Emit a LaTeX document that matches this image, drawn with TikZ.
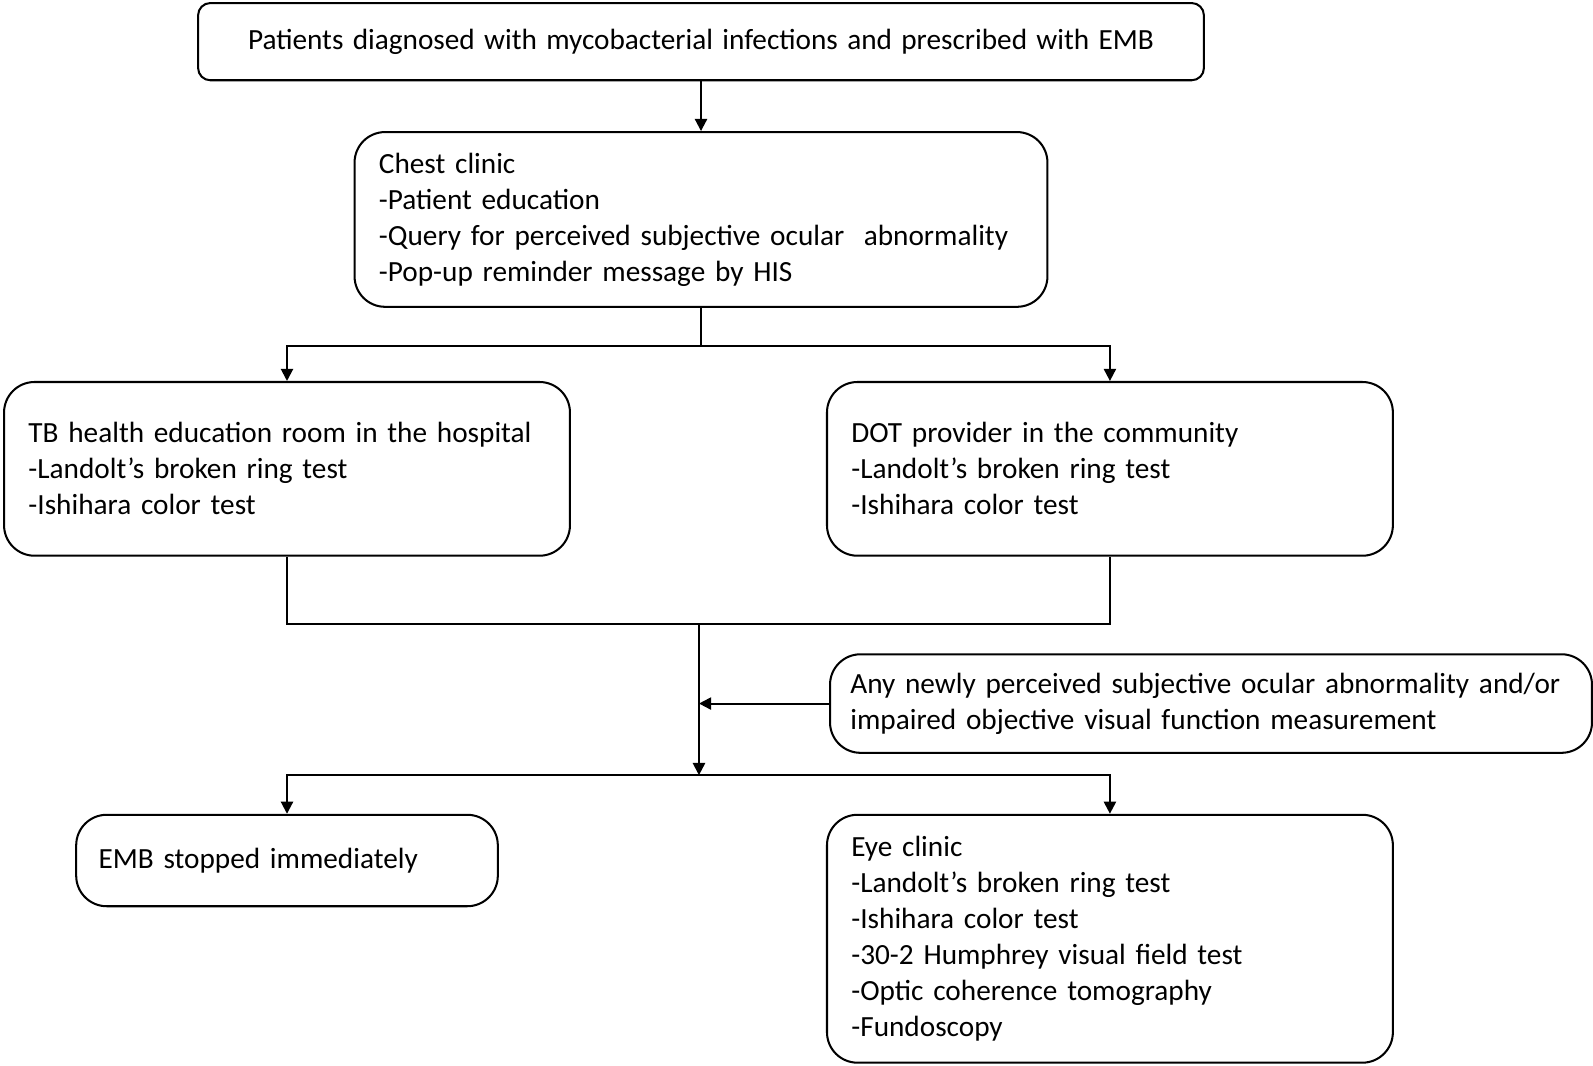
\documentclass[tikz,border=0pt]{standalone}
\usepackage{fontspec}
\setmainfont{Carlito}
\usetikzlibrary{arrows.meta}

\begin{document}
\begin{tikzpicture}[x = 0.5pt, y = -0.5pt,
	box/.style = {draw, line width = 1pt, rounded corners = 15pt, anchor = north west, align = left, inner xsep = 12pt, inner ysep = 0pt, font = \fontsize{14.4}{17.7}\selectfont},
	arr/.style = {line width = 1pt, -{Triangle[length = 6pt, width = 6pt]}},
	conn/.style = {line width = 1pt}]
	\useasboundingbox (0, 0) rectangle (1568, 1049);

	\node[box, rounded corners = 6pt, minimum width = 495pt, minimum height = 38pt, align = center, font = {\fontsize{14.4}{17.7}\selectfont\spaceskip 4.6pt\relax}] (patients) at (194, 2) {Patients diagnosed with mycobacterial infections and prescribed with EMB};
	\node[box, text width = 317pt, minimum height = 86pt] (chest) at (348, 129) {Chest clinic\\-Patient education\\-Query for perceived subjective ocular~ abnormality\\-Pop-up reminder message by HIS};
	\node[box, text width = 254.5pt, minimum height = 85.5pt] (tbroom) at (3, 375) {TB health education room in the hospital\\-Landolt’s broken ring test\\-Ishihara color test};
	\node[box, text width = 254.5pt, minimum height = 85.5pt] (dot) at (813, 375) {DOT provider in the community\\-Landolt’s broken ring test\\-Ishihara color test};
	\node[box, inner xsep = 10pt, text width = 355pt, minimum height = 48.5pt] (newly) at (816, 643) {Any newly perceived subjective ocular abnormality and/or\\impaired objective visual function measurement};
	\node[box, inner xsep = 11pt, text width = 185.5pt, minimum height = 45pt] (stopped) at (74, 801) {EMB stopped immediately};
	\node[box, text width = 254.5pt, minimum height = 122pt] (eye) at (813, 801) {Eye clinic\\-Landolt’s broken ring test\\-Ishihara color test\\-30-2 Humphrey visual field test\\-Optic coherence tomography\\-Fundoscopy};

	\path (chest.south) ++(0, 38) coordinate (split1);
	\coordinate (merge) at (688, 614);
	\coordinate (split2) at (688, 763);

	\draw[arr] (patients.south) -- (chest.north);
	\draw[conn] (chest.south) -- (split1);
	\draw[arr] (split1) -| (tbroom.north);
	\draw[arr] (split1) -| (dot.north);
	\draw[conn] (tbroom.south) |- (merge) -| (dot.south);
	\draw[arr] (merge) -- (split2);
	\draw[arr] (newly.west) -- (newly.west -| merge);
	\draw[arr] (split2) -| (stopped.north);
	\draw[arr] (split2) -| (eye.north);
\end{tikzpicture}
\end{document}
